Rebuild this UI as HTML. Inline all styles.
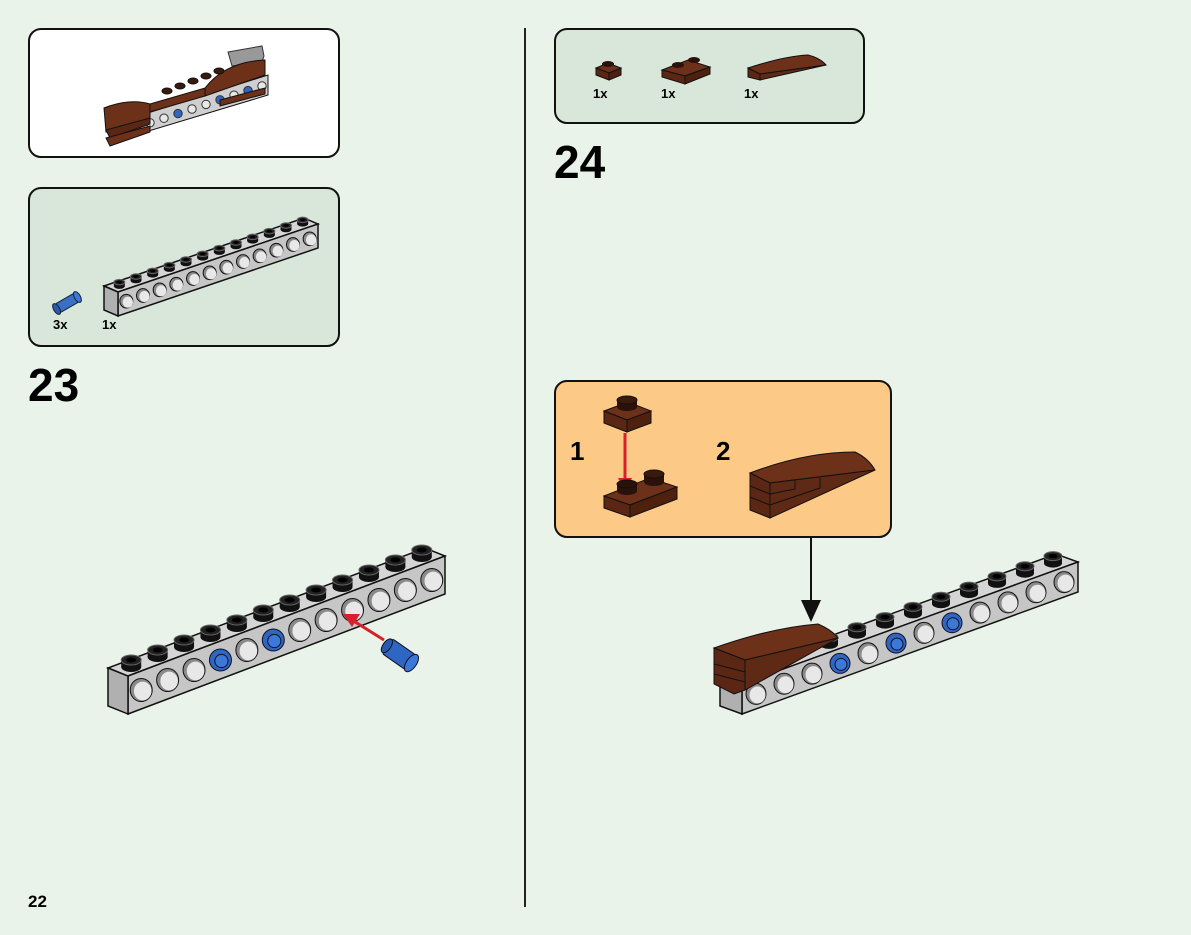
<!DOCTYPE html>
<html><head><meta charset="utf-8"><style>
html,body{margin:0;padding:0;background:#e9f3e9;}
svg{display:block;font-family:"Liberation Sans",Arial,sans-serif;font-weight:bold;}
</style></head><body>
<svg id="s" width="1191" height="935" viewBox="0 0 1191 935" xmlns="http://www.w3.org/2000/svg">
<rect width="1191" height="935" fill="#e9f3e9"/>
<line x1="525" y1="28" x2="525" y2="907" stroke="#222" stroke-width="2"/>
<rect x="29" y="29" width="310" height="128" rx="12" fill="#fff" stroke="#111" stroke-width="2"/>
<rect x="29" y="188" width="310" height="158" rx="12" fill="#d9e7da" stroke="#111" stroke-width="2"/>
<rect x="555" y="29" width="309" height="94" rx="12" fill="#d9e7da" stroke="#111" stroke-width="2"/>
<rect x="555" y="381" width="336" height="156" rx="12" fill="#fdc987" stroke="#111" stroke-width="2"/>
<text x="28" y="401" font-size="46" fill="#000">23</text>
<text x="554" y="178" font-size="46" fill="#000">24</text>
<text x="28" y="907" font-size="17" fill="#000">22</text>
<text x="53" y="329" font-size="13">3x</text>
<text x="102" y="329" font-size="13">1x</text>
<text x="593" y="98" font-size="13">1x</text>
<text x="661" y="98" font-size="13">1x</text>
<text x="744" y="98" font-size="13">1x</text>
<text x="570" y="460" font-size="26">1</text>
<text x="716" y="460" font-size="26">2</text>
<g id="g"></g>
<line x1="384" y1="640" x2="352" y2="620" stroke="#d6202a" stroke-width="3"/>
<polygon points="343,614 360,614 352,627" fill="#d6202a"/>
<line x1="811" y1="537" x2="811" y2="606" stroke="#111" stroke-width="2"/>
<polygon points="801,600 821,600 811,622" fill="#111"/>
<!-- orange panel parts -->
<polygon points="604,411 628,402 651,411 627,420" fill="#6d3019" stroke="#111"/>
<polygon points="604,411 627,420 627,432 604,423" fill="#5b2714" stroke="#111"/>
<polygon points="627,420 651,411 651,423 627,432" fill="#4e210f" stroke="#111"/>
<rect x="617" y="400" width="20" height="7" fill="#2a120a"/>
<ellipse cx="627" cy="407" rx="10" ry="4" fill="#2a120a"/>
<ellipse cx="627" cy="400" rx="10" ry="4" fill="#3b1a0c" stroke="#111"/>
<line x1="625" y1="433" x2="625" y2="482" stroke="#d6202a" stroke-width="3"/>
<polygon points="618,478 632,478 625,492" fill="#d6202a"/>
<polygon points="604,496 650,478 677,487 630,505" fill="#6d3019" stroke="#111"/>
<polygon points="604,496 630,505 630,517 604,508" fill="#5b2714" stroke="#111"/>
<polygon points="630,505 677,487 677,499 630,517" fill="#4e210f" stroke="#111"/>
<rect x="617" y="484" width="20" height="7" fill="#2a120a"/>
<ellipse cx="627" cy="491" rx="10" ry="4" fill="#2a120a"/>
<ellipse cx="627" cy="484" rx="10" ry="4" fill="#2a120a" stroke="#111"/>
<rect x="644" y="474" width="20" height="8" fill="#2a120a"/>
<ellipse cx="654" cy="482" rx="10" ry="4" fill="#2a120a"/>
<ellipse cx="654" cy="474" rx="10" ry="4" fill="#3b1a0c" stroke="#111"/>
<path d="M750,473 Q805,452 855,452 Q868,458 875,470 L770,483 Z" fill="#6d3019" stroke="#111"/>
<path d="M770,483 L875,470 L770,518 Z" fill="#5e2a15" stroke="#111"/>
<polygon points="750,473 770,483 770,518 750,510" fill="#5b2714" stroke="#111"/>
<line x1="750" y1="486" x2="770" y2="494" stroke="#111"/><line x1="750" y1="497" x2="770" y2="505" stroke="#111"/>
<polyline points="770,494 795,489 795,480" fill="none" stroke="#111"/><polyline points="770,505 820,488 820,478" fill="none" stroke="#111"/>
<!-- parts panel 24 -->
<polygon points="596,68 608,63 621,68 609,73" fill="#6d3019" stroke="#111"/>
<polygon points="596,68 609,73 609,80 596,75" fill="#5b2714" stroke="#111"/>
<polygon points="609,73 621,68 621,75 609,80" fill="#4e210f" stroke="#111"/>
<ellipse cx="608" cy="64" rx="6" ry="3" fill="#2a120a"/>
<polygon points="662,70 688,60 710,67 685,76" fill="#6d3019" stroke="#111"/>
<polygon points="662,70 685,76 685,84 662,77" fill="#5b2714" stroke="#111"/>
<polygon points="685,76 710,67 710,74 685,84" fill="#4e210f" stroke="#111"/>
<ellipse cx="678" cy="65" rx="6" ry="3" fill="#2a120a"/><ellipse cx="694" cy="60" rx="6" ry="3" fill="#2a120a"/>
<path d="M748,68 Q785,56 808,55 Q820,58 826,65 L760,74 Z" fill="#6d3019" stroke="#111"/>
<path d="M760,74 L826,65 L760,80 Z" fill="#5e2a15" stroke="#111"/>
<polygon points="748,68 760,74 760,80 748,77" fill="#5b2714" stroke="#111"/>
<g transform="translate(67,303) rotate(-30)"><rect x="-12" y="-5" width="24" height="10" rx="3" fill="#3a6fc6" stroke="#123"/><ellipse cx="-12" cy="0" rx="3" ry="6" fill="#2a5aab" stroke="#123"/><ellipse cx="12" cy="0" rx="3" ry="6" fill="#3c78d8" stroke="#123"/></g>
<g id="t"></g>
</svg>
<script>
var g=document.getElementById('g'),NS='http://www.w3.org/2000/svg';
function el(t,a,par){var e=document.createElementNS(NS,t);for(var k in a)e.setAttribute(k,a[k]);(par||g).appendChild(e);return e;}
function beam(x0,y0,x1,y1,h,ex,ey,n,blue,studR,skip,sh,hr){
 sh=sh||6;hr=hr||studR*1.1;
 var dx=(x1-x0)/n,dy=(y1-y0)/n;
 el('polygon',{points:[x0+ex,y0+ey,x0,y0,x1,y1,x1+ex,y1+ey].join(','),fill:'#d5d5d5',stroke:'#111','stroke-width':1.5});
 el('polygon',{points:[x0,y0,x1,y1,x1,y1+h,x0,y0+h].join(','),fill:'#c6c6c6',stroke:'#111','stroke-width':1.5});
 el('polygon',{points:[x0+ex,y0+ey,x0,y0,x0,y0+h,x0+ex,y0+ey+h].join(','),fill:'#b0b0b0',stroke:'#111','stroke-width':1.5});
 for(var i=0;i<n;i++){
  var cx=x0+(i+0.5)*dx,cy=y0+(i+0.5)*dy;
  var hx=cx,hy=cy+h/2;
  if(blue.indexOf(i)>=0){el('ellipse',{cx:hx,cy:hy,rx:hr,ry:hr,fill:'#2f66c4',stroke:'#112'});el('ellipse',{cx:hx+1,cy:hy+1,rx:hr*.6,ry:hr*.6,fill:'#3c78d8',stroke:'#112'});}
  else{el('ellipse',{cx:hx,cy:hy,rx:hr,ry:hr*1.05,fill:'#8a8a8a',stroke:'#111'});el('ellipse',{cx:hx+1.5,cy:hy+1,rx:hr*.8,ry:hr*.85,fill:'#e8e8e8'});}
  if(skip && i<skip) continue;
  var sx=cx+ex/2,sy=cy+ey/2;
  el('rect',{x:sx-studR,y:sy-sh,width:studR*2,height:sh,fill:'#111'});
  el('ellipse',{cx:sx,cy:sy,rx:studR,ry:studR*.5,fill:'#111'});
  el('ellipse',{cx:sx,cy:sy-sh,rx:studR,ry:studR*.5,fill:'#222',stroke:'#666'});
  el('ellipse',{cx:sx,cy:sy-sh,rx:studR*.5,ry:studR*.25,fill:'#000'});
 }
}
beam(128,676,445,556,38,-20,-8,12,[3,5],10,0,7,11);
beam(742,684,1078,562,30,-22,-8,12,[3,5,7],9,3,7,10);
beam(118,292,318,224,24,-14,-6,12,[],5.5,0,4,6.5);
el('path',{d:'M714,648 Q770,628 818,624 Q832,630 838,638 L745,660 Z',fill:'#6d3019',stroke:'#111'});
el('path',{d:'M745,660 L838,638 L745,690 Z',fill:'#5e2a15',stroke:'#111'});
el('polygon',{points:'714,648 745,660 745,690 734,694 714,684',fill:'#5b2714',stroke:'#111'});
el('line',{x1:714,y1:664,x2:745,y2:672,stroke:'#111'});el('line',{x1:714,y1:674,x2:745,y2:682,stroke:'#111'});
var p=document.createElementNS(NS,'g');p.setAttribute('transform','translate(400,655) rotate(35)');g.appendChild(p);
p.innerHTML='<rect x="-16" y="-9" width="30" height="18" rx="3" fill="#2f66c4" stroke="#112"/><ellipse cx="14" cy="0" rx="5" ry="10" fill="#3c78d8" stroke="#112"/><ellipse cx="-16" cy="0" rx="4" ry="8" fill="#2a5aab" stroke="#112"/>';
// thumbnail
var t=document.getElementById('t');
el('polygon',{points:'228,52 262,46 264,56 262,62 232,66',fill:'#999',stroke:'#333'},t);
el('polygon',{points:'110,125 268,75 268,95 112,142',fill:'#cfcfcf',stroke:'#111'},t);
for(var i=0;i<11;i++){var x=122+i*14,y=132-i*4.6;el('circle',{cx:x,cy:y,r:4.2,fill:(i==4||i==7||i==9)?'#2f66c4':'#e8e8e8',stroke:'#333'},t);}
el('path',{d:'M104,108 Q130,98 150,104 L150,122 L106,132 Z',fill:'#6d3019',stroke:'#111'},t);
el('polygon',{points:'106,130 150,118 150,124 110,138',fill:'#5b2714',stroke:'#111'},t);
el('polygon',{points:'106,138 150,126 150,132 110,146',fill:'#6d3019',stroke:'#111'},t);
el('polygon',{points:'150,104 205,88 205,96 150,112',fill:'#6d3019',stroke:'#111'},t);
el('path',{d:'M205,88 Q225,62 265,60 L265,75 L205,96 Z',fill:'#6d3019',stroke:'#111'},t);
el('polygon',{points:'220,100 265,88 265,94 220,106',fill:'#6d3019',stroke:'#111'},t);
for(var i=0;i<5;i++){el('ellipse',{cx:167+i*13,cy:91-i*5,rx:5,ry:3,fill:'#3b1a0c',stroke:'#111'},t);}
</script>
</body></html>
